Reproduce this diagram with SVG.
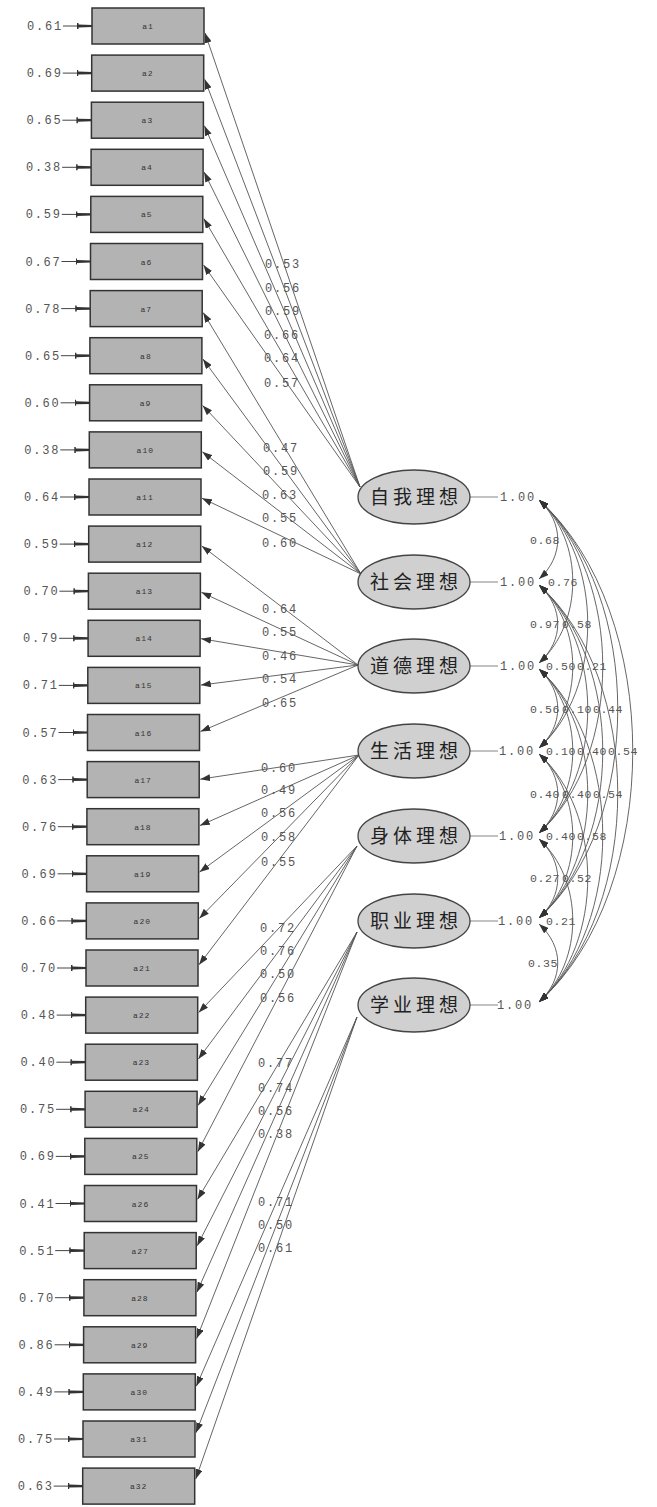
<svg xmlns="http://www.w3.org/2000/svg" width="657" height="1507" viewBox="0 0 657 1507">
<defs>
<marker id="ah" markerUnits="userSpaceOnUse" markerWidth="10" markerHeight="7" refX="10" refY="3.5" orient="auto-start-reverse"><path d="M0,0 L10,3.5 L0,7 z" fill="#333"/></marker>
<marker id="eh" markerUnits="userSpaceOnUse" markerWidth="15" markerHeight="7" refX="15" refY="3.5" orient="auto"><path d="M0,0.5 L1.5,0.5 L1.5,2 L15,2.4 L15,4.6 L1.5,5 L1.5,6.5 L0,6.5 z" fill="#333"/></marker>
<style>
.box{fill:#b3b3b3;stroke:#333;stroke-width:1.5}
.bl{font-family:"Liberation Mono",monospace;font-size:8px;fill:#333;text-anchor:middle;letter-spacing:1px}
.num{font-family:"Liberation Mono",monospace;font-size:12px;fill:#555;letter-spacing:1.8px}
.cn{font-family:"Liberation Mono",monospace;font-size:11.5px;fill:#555;letter-spacing:0.6px}
.err{stroke:#444;stroke-width:1;marker-end:url(#eh)}
.ld{stroke:#555;stroke-width:0.9;fill:none;marker-end:url(#ah)}
.cv{stroke:#555;stroke-width:0.9;fill:none;marker-start:url(#ah);marker-end:url(#ah)}
.lat{fill:#d0d0d0;stroke:#444;stroke-width:1.3}
.lt{font-family:"Noto Sans CJK SC",sans-serif;font-size:19px;fill:#222;text-anchor:middle;letter-spacing:4px}
.vl{stroke:#777;stroke-width:0.9}
</style>
</defs>

<g id="a1" transform="translate(0,26)"><line class="err" x1="63" y1="0" x2="92" y2="0"/><text class="num" x="27" y="4">0.61</text><rect class="box" x="92" y="-18" width="112" height="36"/><text class="bl" x="148" y="3">a1</text></g>
<g id="a2" transform="translate(-0.3,73.1)"><line class="err" x1="63" y1="0" x2="92" y2="0"/><text class="num" x="27" y="4">0.69</text><rect class="box" x="92" y="-18" width="112" height="36"/><text class="bl" x="148" y="3">a2</text></g>
<g id="a3" transform="translate(-0.6,120.2)"><line class="err" x1="63" y1="0" x2="92" y2="0"/><text class="num" x="27" y="4">0.65</text><rect class="box" x="92" y="-18" width="112" height="36"/><text class="bl" x="148" y="3">a3</text></g>
<g id="a4" transform="translate(-0.9,167.3)"><line class="err" x1="63" y1="0" x2="92" y2="0"/><text class="num" x="27" y="4">0.38</text><rect class="box" x="92" y="-18" width="112" height="36"/><text class="bl" x="148" y="3">a4</text></g>
<g id="a5" transform="translate(-1.2,214.4)"><line class="err" x1="63" y1="0" x2="92" y2="0"/><text class="num" x="27" y="4">0.59</text><rect class="box" x="92" y="-18" width="112" height="36"/><text class="bl" x="148" y="3">a5</text></g>
<g id="a6" transform="translate(-1.5,261.5)"><line class="err" x1="63" y1="0" x2="92" y2="0"/><text class="num" x="27" y="4">0.67</text><rect class="box" x="92" y="-18" width="112" height="36"/><text class="bl" x="148" y="3">a6</text></g>
<g id="a7" transform="translate(-1.8,308.6)"><line class="err" x1="63" y1="0" x2="92" y2="0"/><text class="num" x="27" y="4">0.78</text><rect class="box" x="92" y="-18" width="112" height="36"/><text class="bl" x="148" y="3">a7</text></g>
<g id="a8" transform="translate(-2.1,355.7)"><line class="err" x1="63" y1="0" x2="92" y2="0"/><text class="num" x="27" y="4">0.65</text><rect class="box" x="92" y="-18" width="112" height="36"/><text class="bl" x="148" y="3">a8</text></g>
<g id="a9" transform="translate(-2.4,402.8)"><line class="err" x1="63" y1="0" x2="92" y2="0"/><text class="num" x="27" y="4">0.60</text><rect class="box" x="92" y="-18" width="112" height="36"/><text class="bl" x="148" y="3">a9</text></g>
<g id="a10" transform="translate(-2.7,449.9)"><line class="err" x1="63" y1="0" x2="92" y2="0"/><text class="num" x="27" y="4">0.38</text><rect class="box" x="92" y="-18" width="112" height="36"/><text class="bl" x="148" y="3">a10</text></g>
<g id="a11" transform="translate(-3.0,497)"><line class="err" x1="63" y1="0" x2="92" y2="0"/><text class="num" x="27" y="4">0.64</text><rect class="box" x="92" y="-18" width="112" height="36"/><text class="bl" x="148" y="3">a11</text></g>
<g id="a12" transform="translate(-3.3,544.1)"><line class="err" x1="63" y1="0" x2="92" y2="0"/><text class="num" x="27" y="4">0.59</text><rect class="box" x="92" y="-18" width="112" height="36"/><text class="bl" x="148" y="3">a12</text></g>
<g id="a13" transform="translate(-3.6,591.2)"><line class="err" x1="63" y1="0" x2="92" y2="0"/><text class="num" x="27" y="4">0.70</text><rect class="box" x="92" y="-18" width="112" height="36"/><text class="bl" x="148" y="3">a13</text></g>
<g id="a14" transform="translate(-3.9,638.3)"><line class="err" x1="63" y1="0" x2="92" y2="0"/><text class="num" x="27" y="4">0.79</text><rect class="box" x="92" y="-18" width="112" height="36"/><text class="bl" x="148" y="3">a14</text></g>
<g id="a15" transform="translate(-4.2,685.4)"><line class="err" x1="63" y1="0" x2="92" y2="0"/><text class="num" x="27" y="4">0.71</text><rect class="box" x="92" y="-18" width="112" height="36"/><text class="bl" x="148" y="3">a15</text></g>
<g id="a16" transform="translate(-4.5,732.5)"><line class="err" x1="63" y1="0" x2="92" y2="0"/><text class="num" x="27" y="4">0.57</text><rect class="box" x="92" y="-18" width="112" height="36"/><text class="bl" x="148" y="3">a16</text></g>
<g id="a17" transform="translate(-4.8,779.6)"><line class="err" x1="63" y1="0" x2="92" y2="0"/><text class="num" x="27" y="4">0.63</text><rect class="box" x="92" y="-18" width="112" height="36"/><text class="bl" x="148" y="3">a17</text></g>
<g id="a18" transform="translate(-5.1,826.7)"><line class="err" x1="63" y1="0" x2="92" y2="0"/><text class="num" x="27" y="4">0.76</text><rect class="box" x="92" y="-18" width="112" height="36"/><text class="bl" x="148" y="3">a18</text></g>
<g id="a19" transform="translate(-5.4,873.8)"><line class="err" x1="63" y1="0" x2="92" y2="0"/><text class="num" x="27" y="4">0.69</text><rect class="box" x="92" y="-18" width="112" height="36"/><text class="bl" x="148" y="3">a19</text></g>
<g id="a20" transform="translate(-5.7,920.9)"><line class="err" x1="63" y1="0" x2="92" y2="0"/><text class="num" x="27" y="4">0.66</text><rect class="box" x="92" y="-18" width="112" height="36"/><text class="bl" x="148" y="3">a20</text></g>
<g id="a21" transform="translate(-6.0,968)"><line class="err" x1="63" y1="0" x2="92" y2="0"/><text class="num" x="27" y="4">0.70</text><rect class="box" x="92" y="-18" width="112" height="36"/><text class="bl" x="148" y="3">a21</text></g>
<g id="a22" transform="translate(-6.3,1015.1)"><line class="err" x1="63" y1="0" x2="92" y2="0"/><text class="num" x="27" y="4">0.48</text><rect class="box" x="92" y="-18" width="112" height="36"/><text class="bl" x="148" y="3">a22</text></g>
<g id="a23" transform="translate(-6.6,1062.2)"><line class="err" x1="63" y1="0" x2="92" y2="0"/><text class="num" x="27" y="4">0.40</text><rect class="box" x="92" y="-18" width="112" height="36"/><text class="bl" x="148" y="3">a23</text></g>
<g id="a24" transform="translate(-6.9,1109.3)"><line class="err" x1="63" y1="0" x2="92" y2="0"/><text class="num" x="27" y="4">0.75</text><rect class="box" x="92" y="-18" width="112" height="36"/><text class="bl" x="148" y="3">a24</text></g>
<g id="a25" transform="translate(-7.2,1156.4)"><line class="err" x1="63" y1="0" x2="92" y2="0"/><text class="num" x="27" y="4">0.69</text><rect class="box" x="92" y="-18" width="112" height="36"/><text class="bl" x="148" y="3">a25</text></g>
<g id="a26" transform="translate(-7.5,1203.5)"><line class="err" x1="63" y1="0" x2="92" y2="0"/><text class="num" x="27" y="4">0.41</text><rect class="box" x="92" y="-18" width="112" height="36"/><text class="bl" x="148" y="3">a26</text></g>
<g id="a27" transform="translate(-7.8,1250.6)"><line class="err" x1="63" y1="0" x2="92" y2="0"/><text class="num" x="27" y="4">0.51</text><rect class="box" x="92" y="-18" width="112" height="36"/><text class="bl" x="148" y="3">a27</text></g>
<g id="a28" transform="translate(-8.1,1297.7)"><line class="err" x1="63" y1="0" x2="92" y2="0"/><text class="num" x="27" y="4">0.70</text><rect class="box" x="92" y="-18" width="112" height="36"/><text class="bl" x="148" y="3">a28</text></g>
<g id="a29" transform="translate(-8.4,1344.8)"><line class="err" x1="63" y1="0" x2="92" y2="0"/><text class="num" x="27" y="4">0.86</text><rect class="box" x="92" y="-18" width="112" height="36"/><text class="bl" x="148" y="3">a29</text></g>
<g id="a30" transform="translate(-8.7,1391.9)"><line class="err" x1="63" y1="0" x2="92" y2="0"/><text class="num" x="27" y="4">0.49</text><rect class="box" x="92" y="-18" width="112" height="36"/><text class="bl" x="148" y="3">a30</text></g>
<g id="a31" transform="translate(-9.0,1439)"><line class="err" x1="63" y1="0" x2="92" y2="0"/><text class="num" x="27" y="4">0.75</text><rect class="box" x="92" y="-18" width="112" height="36"/><text class="bl" x="148" y="3">a31</text></g>
<g id="a32" transform="translate(-9.3,1486.1)"><line class="err" x1="63" y1="0" x2="92" y2="0"/><text class="num" x="27" y="4">0.63</text><rect class="box" x="92" y="-18" width="112" height="36"/><text class="bl" x="148" y="3">a32</text></g>

<g id="connectors">
<path class="ld" d="M360,487 L205,32.9"/>
<path class="ld" d="M360,487 L204.7,79.3"/>
<path class="ld" d="M360,487 L204.4,125.7"/>
<path class="ld" d="M360,487 L204.1,172.1"/>
<path class="ld" d="M360,487 L203.8,218.5"/>
<path class="ld" d="M360,487 L203.5,264.9"/>
<path class="ld" d="M361,574 L203.2,312.6"/>
<path class="ld" d="M361,574 L202.9,359"/>
<path class="ld" d="M361,574 L202.6,405.4"/>
<path class="ld" d="M361,574 L202.3,451.8"/>
<path class="ld" d="M361,574 L202,498.2"/>
<path class="ld" d="M358,665 L201.7,545.9"/>
<path class="ld" d="M358,665 L201.4,592.3"/>
<path class="ld" d="M358,665 L201.1,638.7"/>
<path class="ld" d="M358,665 L200.8,685.1"/>
<path class="ld" d="M358,665 L200.5,731.5"/>
<path class="ld" d="M359,755 L200.2,779.2"/>
<path class="ld" d="M359,755 L199.9,825.6"/>
<path class="ld" d="M359,755 L199.6,872"/>
<path class="ld" d="M359,755 L199.3,918.4"/>
<path class="ld" d="M359,755 L199,964.8"/>
<path class="ld" d="M357,846 L198.7,1012.6"/>
<path class="ld" d="M357,846 L198.4,1059"/>
<path class="ld" d="M357,846 L198.1,1105.4"/>
<path class="ld" d="M357,846 L197.8,1151.7"/>
<path class="ld" d="M357,932 L197.5,1199.4"/>
<path class="ld" d="M357,932 L197.2,1245.8"/>
<path class="ld" d="M357,932 L196.9,1292.2"/>
<path class="ld" d="M357,932 L196.6,1338.6"/>
<path class="ld" d="M357,1017 L196.3,1386.3"/>
<path class="ld" d="M357,1017 L196,1432.7"/>
<path class="ld" d="M357,1017 L195.7,1479.1"/>

<line class="vl" x1="470" y1="497" x2="498" y2="497"/>
<line class="vl" x1="470" y1="582" x2="498" y2="582"/>
<line class="vl" x1="470" y1="666" x2="498" y2="666"/>
<line class="vl" x1="470" y1="751" x2="498" y2="751"/>
<line class="vl" x1="470" y1="836" x2="498" y2="836"/>
<line class="vl" x1="470" y1="921" x2="498" y2="921"/>
<line class="vl" x1="470" y1="1005" x2="498" y2="1005"/>

<path class="cv" d="M539,500 C564,522.5 564,556.5 539,579"/>
<path class="cv" d="M539,585 C564,607.5 564,640.5 539,663"/>
<path class="cv" d="M539,669 C564,691.5 564,725.5 539,748"/>
<path class="cv" d="M539,754 C564,776.5 564,810.5 539,833"/>
<path class="cv" d="M539,839 C564,861.5 564,895.5 539,918"/>
<path class="cv" d="M539,924 C564,946.5 564,979.5 539,1002"/>
<path class="cv" d="M539,500 C584,540.5 584,622.5 539,663"/>
<path class="cv" d="M539,585 C584,625.5 584,707.5 539,748"/>
<path class="cv" d="M539,669 C584,709.5 584,792.5 539,833"/>
<path class="cv" d="M539,754 C584,794.5 584,877.5 539,918"/>
<path class="cv" d="M539,839 C584,879.5 584,961.5 539,1002"/>
<path class="cv" d="M539,500 C604,558.5 604,689.5 539,748"/>
<path class="cv" d="M539,585 C604,643.5 604,774.5 539,833"/>
<path class="cv" d="M539,669 C604,727.5 604,859.5 539,918"/>
<path class="cv" d="M539,754 C604,812.5 604,943.5 539,1002"/>
<path class="cv" d="M539,500 C624,576.5 624,756.5 539,833"/>
<path class="cv" d="M539,585 C624,661.5 624,841.5 539,918"/>
<path class="cv" d="M539,669 C624,745.5 624,925.5 539,1002"/>
<path class="cv" d="M539,500 C644,594.5 644,823.5 539,918"/>
<path class="cv" d="M539,585 C644,679.5 644,907.5 539,1002"/>
<path class="cv" d="M539,500 C664,612.5 664,889.5 539,1002"/>
</g>

<g id="loadings">
<text class="num" x="265" y="268">0.53</text>
<text class="num" x="265" y="292">0.56</text>
<text class="num" x="265" y="315">0.59</text>
<text class="num" x="264" y="339">0.66</text>
<text class="num" x="264" y="362">0.64</text>
<text class="num" x="264" y="387">0.57</text>
<text class="num" x="263" y="452">0.47</text>
<text class="num" x="263" y="475">0.59</text>
<text class="num" x="262" y="499">0.63</text>
<text class="num" x="262" y="522">0.55</text>
<text class="num" x="262" y="547">0.60</text>
<text class="num" x="262" y="613">0.64</text>
<text class="num" x="262" y="636">0.55</text>
<text class="num" x="262" y="660">0.46</text>
<text class="num" x="262" y="683">0.54</text>
<text class="num" x="262" y="707">0.65</text>
<text class="num" x="261" y="772">0.60</text>
<text class="num" x="261" y="794">0.49</text>
<text class="num" x="261" y="817">0.56</text>
<text class="num" x="261" y="841">0.58</text>
<text class="num" x="261" y="866">0.55</text>
<text class="num" x="260" y="932">0.72</text>
<text class="num" x="260" y="955">0.76</text>
<text class="num" x="260" y="978">0.50</text>
<text class="num" x="260" y="1002">0.56</text>
<text class="num" x="258" y="1067">0.77</text>
<text class="num" x="258" y="1092">0.74</text>
<text class="num" x="258" y="1115">0.56</text>
<text class="num" x="258" y="1138">0.38</text>
<text class="num" x="258" y="1206">0.71</text>
<text class="num" x="258" y="1229">0.50</text>
<text class="num" x="258" y="1252">0.61</text>
</g>

<g id="variances">
<text class="num" x="500" y="501">1.00</text>
<text class="num" x="500" y="586">1.00</text>
<text class="num" x="500" y="670">1.00</text>
<text class="num" x="499" y="755">1.00</text>
<text class="num" x="499" y="840">1.00</text>
<text class="num" x="498" y="925">1.00</text>
<text class="num" x="497" y="1009">1.00</text>
</g>

<g id="correlations">
<text class="cn" x="530" y="544">0.68</text>
<text class="cn" x="548" y="586">0.76</text>
<text class="cn" x="530" y="628">0.97</text>
<text class="cn" x="562" y="628">0.58</text>
<text class="cn" x="546" y="670">0.50</text>
<text class="cn" x="577" y="670">0.21</text>
<text class="cn" x="530" y="713">0.56</text>
<text class="cn" x="562" y="713">0.10</text>
<text class="cn" x="593" y="713">0.44</text>
<text class="cn" x="546" y="755">0.10</text>
<text class="cn" x="577" y="755">0.40</text>
<text class="cn" x="608" y="755">0.54</text>
<text class="cn" x="530" y="798">0.40</text>
<text class="cn" x="562" y="798">0.40</text>
<text class="cn" x="593" y="798">0.54</text>
<text class="cn" x="546" y="840">0.40</text>
<text class="cn" x="577" y="840">0.58</text>
<text class="cn" x="530" y="882">0.27</text>
<text class="cn" x="562" y="882">0.52</text>
<text class="cn" x="546" y="925">0.21</text>
<text class="cn" x="528" y="967">0.35</text>
</g>

<g id="f1"><ellipse class="lat" cx="414" cy="497" rx="56" ry="27"/><text class="lt" x="416" y="504">自我理想</text></g>
<g id="f2"><ellipse class="lat" cx="414" cy="582" rx="56" ry="27"/><text class="lt" x="416" y="589">社会理想</text></g>
<g id="f3"><ellipse class="lat" cx="414" cy="666" rx="56" ry="27"/><text class="lt" x="416" y="673">道德理想</text></g>
<g id="f4"><ellipse class="lat" cx="414" cy="751" rx="56" ry="27"/><text class="lt" x="416" y="758">生活理想</text></g>
<g id="f5"><ellipse class="lat" cx="414" cy="836" rx="56" ry="27"/><text class="lt" x="416" y="843">身体理想</text></g>
<g id="f6"><ellipse class="lat" cx="414" cy="921" rx="56" ry="27"/><text class="lt" x="416" y="928">职业理想</text></g>
<g id="f7"><ellipse class="lat" cx="414" cy="1005" rx="56" ry="27"/><text class="lt" x="416" y="1012">学业理想</text></g>
</svg>
